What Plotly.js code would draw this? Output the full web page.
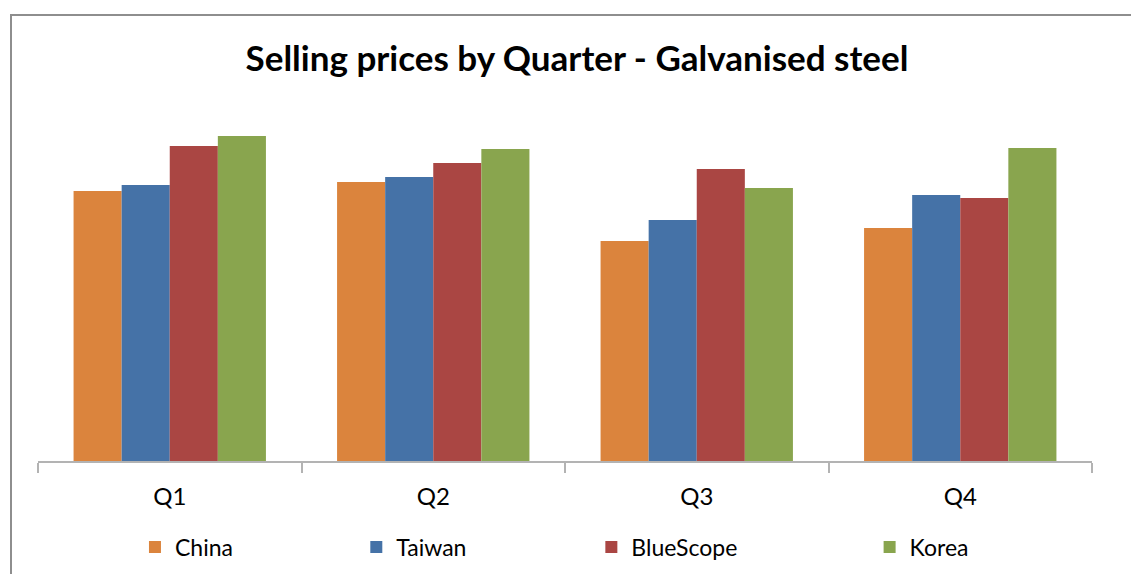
<!DOCTYPE html>
<html>
<head>
<meta charset="utf-8">
<script src="https://cdn.plot.ly/plotly-3.0.1.min.js"></script>
<style>
  body { margin: 0; background: #fff; overflow: hidden; }
  #chart { position: absolute; left: 0; top: 0; width: 1131px; height: 574px; }
  #frame { position: absolute; left: 10px; top: 14px; width: 1200px; height: 700px;
           border: 2px solid #8e8e8e; pointer-events: none; }
</style>
</head>
<body>
<div id="chart"></div>
<div id="frame"></div>
<script>
var quarters = ['Q1', 'Q2', 'Q3', 'Q4'];

// bar heights (no scale shown)
var china     = [270, 279, 220, 233];
var taiwan    = [276, 284, 241, 266];
var bluescope = [315, 298, 292, 263];
var korea     = [325, 312, 273, 313];

var names  = ['China', 'Taiwan', 'BlueScope', 'Korea'];
var colors = ['#DB843D', '#4572A7', '#AA4643', '#89A54E'];
var series = [china, taiwan, bluescope, korea];
var legendX = [0.092, 0.302, 0.525, 0.789];

var data = [];
var layout = {
  width: 1131,
  height: 574,
  showlegend: true,
  paper_bgcolor: '#fff',
  plot_bgcolor: '#fff',
  font: { family: 'Lato, "Open Sans", sans-serif', color: '#000' },
  title: {
    text: '<b>Selling prices by Quarter - Galvanised steel</b>',
    font: { size: 35, family: 'Lato, sans-serif', color: '#000' },
    x: 577 / 1131, xanchor: 'center', xref: 'container',
    y: 1 - 59 / 574, yref: 'container', yanchor: 'middle'
  },
  barmode: 'group',
  bargap: 0.27,
  bargroupgap: 0,
  margin: { l: 38, r: 39, t: 131, b: 113, autoexpand: false },
  xaxis: {
    type: 'category',
    tickson: 'boundaries',
    ticks: 'outside',
    ticklen: 10,
    tickcolor: '#b3b3b3',
    tickwidth: 2,
    showline: true,
    linecolor: '#b3b3b3',
    linewidth: 2,
    showgrid: false,
    ticklabelstandoff: 13,
    tickfont: { size: 24, color: '#000' }
  },
  yaxis: {
    range: [0, 330],
    visible: false,
    showgrid: false,
    zeroline: false
  }
};

for (var i = 0; i < series.length; i++) {
  var lg = i === 0 ? 'legend' : 'legend' + (i + 1);
  data.push({
    type: 'bar',
    name: names[i],
    x: quarters,
    y: series[i],
    marker: { color: colors[i] },
    legend: lg,
    showlegend: true,
    hoverinfo: 'x+y+name'
  });
  layout[lg] = {
    x: legendX[i],
    xanchor: 'left',
    y: (461 - 547) / 330,
    yanchor: 'middle',
    orientation: 'h',
    font: { size: 23, color: '#000' },
    bgcolor: 'rgba(0,0,0,0)'
  };
}

Plotly.newPlot('chart', data, layout, { displayModeBar: false });
</script>
</body>
</html>
